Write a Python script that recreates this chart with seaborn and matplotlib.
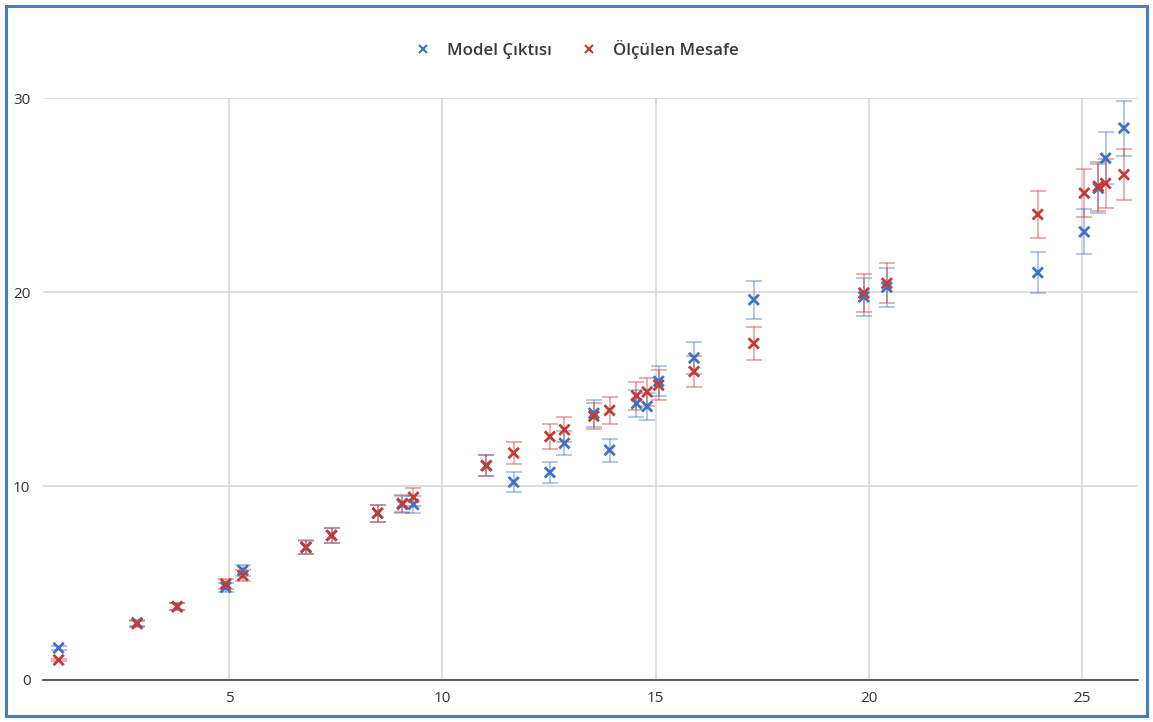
import numpy as np
import pandas as pd
import matplotlib
matplotlib.use("Agg")
import matplotlib.pyplot as plt
import seaborn as sns
from matplotlib.patches import Rectangle

# Data
x_vals = [1.0, 2.84, 3.78, 4.92, 5.32, 6.8, 7.4, 8.48, 9.06, 9.32,
          11.03, 11.67, 12.52, 12.86, 13.55, 13.92, 14.55, 14.8, 15.07, 15.9,
          17.3, 19.88, 20.42, 23.96, 25.05, 25.38, 25.55, 25.98]
model_vals = [1.65, 2.95, 3.78, 4.78, 5.65, 6.82, 7.45, 8.6, 9.05, 9.05,
              11.05, 10.2, 10.7, 12.2, 13.75, 11.85, 14.25, 14.1, 15.4, 16.6,
              19.6, 19.75, 20.25, 21.0, 23.1, 25.35, 26.9, 28.45]
measured_vals = [1.03, 2.9, 3.78, 4.95, 5.38, 6.85, 7.45, 8.6, 9.1, 9.42,
                 11.05, 11.7, 12.55, 12.9, 13.6, 13.9, 14.65, 14.85, 15.2, 15.9,
                 17.35, 19.95, 20.45, 24.0, 25.1, 25.45, 25.6, 26.05]
series_names = ["Model Çıktısı", "Ölçülen Mesafe"]
err_pct = 5  # percentage error bars
x_ticks = [5, 10, 15, 20, 25]
y_ticks = [0, 10, 20, 30]

colors = {"Model Çıktısı": "#3F72C0", "Ölçülen Mesafe": "#C23B35"}

df = pd.concat([
    pd.DataFrame({"x": x_vals, "y": model_vals, "seri": series_names[0]}),
    pd.DataFrame({"x": x_vals, "y": measured_vals, "seri": series_names[1]}),
])

sns.set_style("white")
plt.rcParams["font.family"] = ["Open Sans", "DejaVu Sans"]

fig = plt.figure(figsize=(11.53, 7.22), dpi=100)
ax = fig.add_axes([0.0373, 0.0582, 0.9497, 0.806])

# error bars (lighter colour, drawn under the markers)
for name, vals in zip(series_names, [model_vals, measured_vals]):
    vals = np.array(vals)
    ax.errorbar(
        x_vals, vals,
        yerr=vals * err_pct / 100,
        fmt="none",
        ecolor=colors[name],
        alpha=0.4,
        elinewidth=1.4,
        capsize=6,
        capthick=1.4,
        zorder=2,
        clip_on=False,
    )

sns.scatterplot(
    data=df,
    x="x",
    y="y",
    hue="seri",
    palette=colors,
    marker="x",
    s=55,
    linewidth=2.0,
    ax=ax,
    zorder=3,
    clip_on=False,
    legend=True,
)

ax.set_xlim(0.634, 26.31)
ax.set_ylim(0, 30)
ax.set_xticks(x_ticks)
ax.set_yticks(y_ticks)
ax.grid(True, color="#d4d4d4", linewidth=1.1)
ax.set_axisbelow(True)
ax.set_xlabel("")
ax.set_ylabel("")

for side in ["top", "right", "left"]:
    ax.spines[side].set_visible(False)
ax.spines["bottom"].set_color("#505050")
ax.spines["bottom"].set_linewidth(1.3)
ax.spines["bottom"].set_zorder(4)

ax.tick_params(axis="both", length=0, labelsize=11, labelcolor="#333333")
ax.tick_params(axis="y", pad=9)
ax.tick_params(axis="x", pad=8)

handles, labels = ax.get_legend_handles_labels()
ax.get_legend().remove()
leg = fig.legend(
    handles, labels,
    loc="center",
    bbox_to_anchor=(0.5, 0.931),
    ncol=2,
    frameon=False,
    prop={"size": 12.2, "weight": "semibold"},
    labelcolor="#3a3a3a",
    handletextpad=0.9,
    columnspacing=1.7,
    handlelength=1.0,
)
for h in leg.legend_handles:
    h.set_markersize(6)
    h.set_markeredgewidth(1.5)

# blue frame around the whole picture
fig.patches.append(Rectangle(
    (6 / 1153, 6 / 722), 1141 / 1153, 710 / 722,
    transform=fig.transFigure, fill=False,
    edgecolor="#4A7CC4", linewidth=2.2,
))

fig.savefig("out.png", dpi=100)
plt.close(fig)
